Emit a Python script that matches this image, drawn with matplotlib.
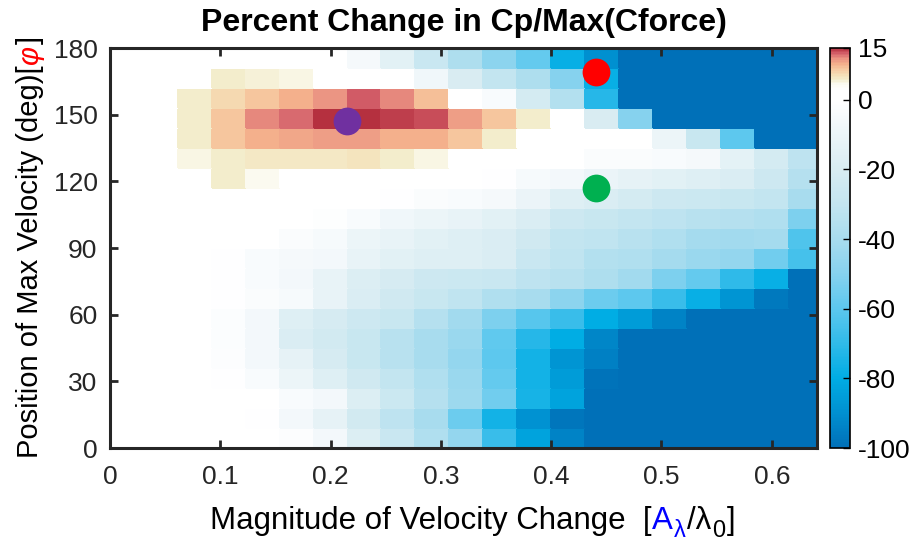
import numpy as np
import matplotlib
matplotlib.use('Agg')
import matplotlib.pyplot as plt
from matplotlib.colors import LinearSegmentedColormap, Normalize
from matplotlib.transforms import IdentityTransform

plt.rcParams['font.family'] = ['Liberation Sans', 'DejaVu Sans']
plt.rcParams['axes.unicode_minus'] = False

W, H = 914, 545
C_AX = '#262626'

# ---- data ----
# bins: magnitude A/lambda0 (21 columns), position of max velocity phi (20 rows of 9 deg)
A_edges = np.arange(22) * (0.2 / 6.5)
phi_edges = np.arange(0, 181, 9)

# percent change, rows listed from top (171-180 deg) down to bottom (0-9 deg)
pct_rows_top_down = [
    [0, 0, 0, 0, 0, 0, 0, -6, -15, -27, -38, -48, -58, -78, -90, -100, -100, -100, -100, -100, -100],
    [0, 0, 0, 6, 5.5, 4.7, 0, 0, 0, -8, -20, -30, -38, -50, -78, -100, -100, -100, -100, -100, -100],
    [0, 0, 6, 7.5, 9, 10.5, 11.5, 13.5, 12, 9.5, 0, -4, -22, -36, -72, -100, -100, -100, -100, -100, -100],
    [0, 0, 6, 9, 12, 13, 15, 15, 14.5, 14, 11, 9, 6, 0, -20, -50, -100, -100, -100, -100, -100],
    [0, 0, 6, 9, 10.5, 10.8, 11, 11.3, 10.5, 10.5, 9, 6, 0, 0, 0, 0, -10, -28, -60, -100, -100],
    [0, 0, 5, 6, 6.3, 6.3, 6.3, 6.7, 6, 5, 0, 0, 0, 0, -3, -3, -4, -6, -14, -22, -32],
    [0, 0, 0, 6, 4.5, 0, 0, 0, 0, 0, 0, -1, -5, -7, -11, -13, -15, -17, -19, -25, -35],
    [0, 0, 0, 0, 0, 0, 0, 0, -1, -3, -4, -6, -11, -17, -19, -22, -25, -26, -28, -30, -40],
    [0, 0, 0, 0, 0, 0, -1.5, -4, -8, -10, -12, -15, -19, -25, -28, -30, -32, -34, -35, -37, -52],
    [0, 0, 0, 0, 0, -3, -5, -10, -12, -15, -17, -19, -24, -30, -31, -34, -37, -41, -42, -41, -63],
    [0, 0, 0, -1, -4, -6, -7, -12, -15, -17, -17, -19, -27, -31, -36, -37, -41, -44, -46, -55, -65],
    [0, 0, 0, -1, -4, -7, -12, -18, -21, -25, -26, -27, -32, -34, -38, -42, -52, -58, -70, -78, -100],
    [0, 0, 0, -1, -3, -5, -12, -19, -24, -28, -31, -37, -40, -48, -56, -60, -68, -78, -88, -97, -100],
    [0, 0, 0, -2.5, -7, -17, -21, -25, -28, -35, -42, -52, -61, -68, -80, -86, -94, -100, -100, -100, -100],
    [0, 0, 0, -2.5, -7, -19, -23, -28, -34, -40, -44, -59, -72, -80, -93, -100, -100, -100, -100, -100, -100],
    [0, 0, 0, -2, -7, -13, -21, -28, -34, -40, -46, -60, -76, -88, -95, -100, -100, -100, -100, -100, -100],
    [0, 0, 0, -1, -4, -10, -17, -24, -30, -37, -44, -58, -76, -86, -99, -100, -100, -100, -100, -100, -100],
    [0, 0, 0, 0, 0, -4, -7, -18, -26, -35, -43, -55, -75, -83, -100, -100, -100, -100, -100, -100, -100],
    [0, 0, 0, 0, -1, -7, -13, -23, -32, -40, -56, -76, -89, -98, -100, -100, -100, -100, -100, -100, -100],
    [0, 0, 0, 0, 0, -2, -7, -18, -27, -37, -46, -68, -83, -94, -100, -100, -100, -100, -100, -100, -100],
]
pct_change = np.flipud(np.array(pct_rows_top_down, dtype=float))

# marked cases
pt_A = [0.441, 0.441, 0.215]
pt_phi = [169, 117, 147]
pt_colors = ['#ff0000', '#00b050', '#7030a0']

cbar_ticks = [15, 0, -20, -40, -60, -80, -100]
x_ticks = [0, 0.1, 0.2, 0.3, 0.4, 0.5, 0.6]
x_ticklabels = ['0', '0.1', '0.2', '0.3', '0.4', '0.5', '0.6']
y_ticks = [0, 30, 60, 90, 120, 150, 180]

# ---- colormap (matched to colorbar) ----
vmin, vmax = -100, 15
anchors = [
    (-100, '#0070b8'), (-90, '#0090d0'), (-80, '#00ade4'), (-70, '#30bae9'),
    (-60, '#5cc8ee'), (-50, '#86d2ee'), (-40, '#a8dcee'), (-30, '#c3e5f0'),
    (-20, '#d8ecf2'), (-10, '#ecf5f8'), (-5, '#f6fafc'), (0, '#ffffff'),
    (3, '#ffffff'), (4.5, '#fcfbf3'), (6, '#f3edcb'), (7.5, '#f5ddb5'),
    (9, '#f6c8a0'), (10.5, '#f4b08c'), (12, '#ea9282'), (13.5, '#d4606a'),
    (15, '#b5303f'),
]
cmap = LinearSegmentedColormap.from_list(
    'pct', [((v - vmin) / (vmax - vmin), c) for v, c in anchors])
norm = Normalize(vmin=vmin, vmax=vmax)

fig = plt.figure(figsize=(W / 100, H / 100), dpi=100)
ax = fig.add_axes([110 / W, 97 / H, 707 / W, 400 / H])
cax = fig.add_axes([830 / W, 97 / H, 20 / W, 400.5 / H])

mesh = ax.pcolormesh(A_edges, phi_edges, pct_change, cmap=cmap, norm=norm,
                     shading='flat', edgecolors='face', linewidth=0.3)
ax.plot(pt_A[0], pt_phi[0], 'o', ms=20, color=pt_colors[0], mec='none')
ax.plot(pt_A[1], pt_phi[1], 'o', ms=20, color=pt_colors[1], mec='none')
ax.plot(pt_A[2], pt_phi[2], 'o', ms=20, color=pt_colors[2], mec='none')

ax.set_xlim(0, 0.641)
ax.set_ylim(0, 180)
ax.set_xticks(x_ticks)
ax.set_xticklabels(x_ticklabels)
ax.set_yticks(y_ticks)
for sp in ax.spines.values():
    sp.set_linewidth(2.2)
    sp.set_color(C_AX)
ax.tick_params(direction='in', top=True, right=True, length=6, width=2,
               labelsize=19, colors=C_AX)
ax.tick_params(axis='x', pad=12)
ax.tick_params(axis='y', pad=9)

cb = fig.colorbar(mesh, cax=cax, ticks=cbar_ticks)
cb.outline.set_linewidth(1.2)
cax.tick_params(direction='in', length=5, width=1, labelsize=19, pad=6)

fig.text(463.5 / W, 1 - 31 / H, 'Percent Change in Cp/Max(Cforce)',
         ha='center', va='baseline', fontsize=23, fontweight='bold')

# ---- multi-coloured axis labels ----
fig.canvas.draw()
rend = fig.canvas.get_renderer()
tr = IdentityTransform()

def colour_label(pieces, x0, y0, rotation):
    texts = []
    for s, col, size, dy, kw in pieces:
        t = fig.text(0, 0, s, color=col, fontsize=size, rotation=rotation,
                     rotation_mode='anchor', ha='left', va='baseline',
                     transform=tr, **kw)
        texts.append((t, dy))
    sizes = []
    for t, dy in texts:
        bb = t.get_window_extent(rend)
        sizes.append(bb.height if rotation else bb.width)
    total = sum(sizes)
    pos = -total / 2
    for (t, dy), s in zip(texts, sizes):
        if rotation:
            t.set_position((x0 - dy, y0 + pos))
        else:
            t.set_position((x0 + pos, y0 + dy))
        pos += s + 1

colour_label([
    ('Magnitude of Velocity Change  [', 'black', 22.5, 0, {}),
    ('A', '#0000ff', 22.5, 0, {}),
    ('λ', '#0000ff', 17, -8, {}),
    ('/λ', 'black', 22.5, 0, {}),
    ('0', 'black', 17, -8, {}),
    (']', 'black', 22.5, 0, {}),
], 470, H - 529, 0)

colour_label([
    ('Position of Max Velocity (deg)[', 'black', 21, 0, {}),
    ('φ', '#ff0000', 21, 0, {'style': 'italic'}),
    (']', 'black', 21, 0, {}),
], 38, H - 248, 90)

fig.savefig('out.png', dpi=100)
